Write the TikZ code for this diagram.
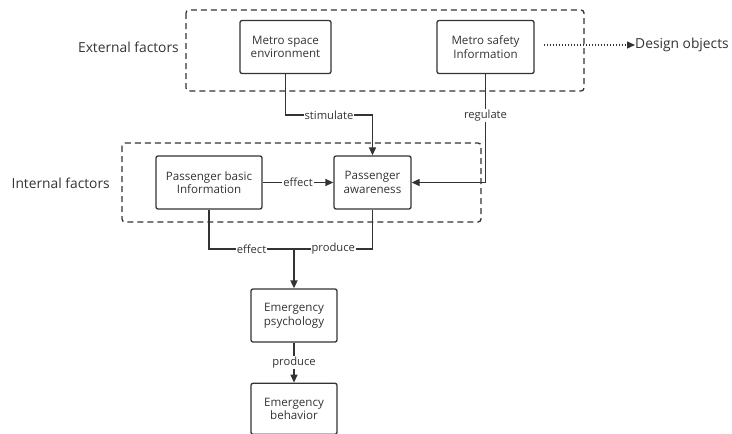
\documentclass[tikz,border=0pt]{standalone}
\usepackage{fontspec}
\setmainfont{Open Sans}
\usepackage{tikz}
\usetikzlibrary{positioning}
\usetikzlibrary{arrows.meta,calc}
\usepackage{xcolor}
\definecolor{linegray}{HTML}{333333}
\pgfkeys{tikz/factorbox/.style={draw=linegray,line width=1.3pt,rounded corners=2pt,align=center,
    minimum height=53pt,inner sep=2pt,text=linegray,font=\fontsize{11.6}{13.5}\selectfont}}
\pgfkeys{tikz/groupbox/.style={draw=linegray,line width=1.3pt,dash pattern=on 6pt off 4pt,rounded corners=3pt}}
\pgfkeys{tikz/link/.style={draw=linegray,line width=1.3pt}}
\pgfkeys{tikz/linktip/.style={link,-{Triangle[length=8pt,width=7pt]}}}
\pgfkeys{tikz/linklabel/.style={fill=white,inner sep=1pt,text=linegray,font=\fontsize{11.2}{13}\selectfont}}
\pgfkeys{tikz/sidelabel/.style={inner sep=0pt,text=linegray,font=\fontsize{13.8}{16}\selectfont}}

\begin{document}
\begin{tikzpicture}[x=1pt,y=-1pt]

	\useasboundingbox (0,0) rectangle (732,434);

	\draw[groupbox] (186,10) rectangle (584,91);
	\draw[groupbox] (122,143) rectangle (481,222);

	\node[factorbox, minimum width=91pt] (space) at (285.5,47) {Metro space\\environment};
	\node[factorbox, minimum width=97pt] (safety) at (485.5,47) {Metro safety\\Information};
	\node[factorbox, minimum width=106pt] (basic) at (209,182.5) {Passenger basic\\Information};
	\node[factorbox, minimum width=77pt] (aware) at (372.5,182.5) {Passenger\\awareness};
	\node[factorbox, minimum width=86pt] (psych) at (294,315.5) {Emergency\\psychology};
	\node[factorbox, minimum width=86pt, minimum height=51pt, below=40pt of psych] (behav) {Emergency\\behavior};

	\node[sidelabel, anchor=east] (external) at (179,47) {External factors};
	\node[sidelabel, anchor=east] (internal) at (110,183) {Internal factors};
	\node[sidelabel, anchor=west] (design) at (635,45) {Design objects};

	\coordinate (stimturn) at (0,115);
	\coordinate (merge) at (psych.north |- 0,249);

	\draw[linktip, dash pattern=on 1.5pt off 1.5pt] ([xshift=9pt]design.west -| safety.east) -- (design.west);
	\draw[linktip] (space.south) -- (space.south |- stimturn) -- node[linklabel]{stimulate} (aware.north |- stimturn) -- (aware.north);
	\draw[linktip] (safety.south) |- node[linklabel, pos=0.19]{regulate} (aware.east);
	\draw[linktip] (basic) -- node[linklabel]{effect} (aware);
	\draw[link] (basic.south) |- node[linklabel, pos=0.75]{effect} (merge);
	\draw[link] (aware.south) |- node[linklabel, pos=0.75]{produce} (merge);
	\draw[linktip, line width=1.8pt] (merge) -- (psych.north);
	\draw[linktip] (psych) -- node[linklabel]{produce} (behav);

\end{tikzpicture}
\end{document}
